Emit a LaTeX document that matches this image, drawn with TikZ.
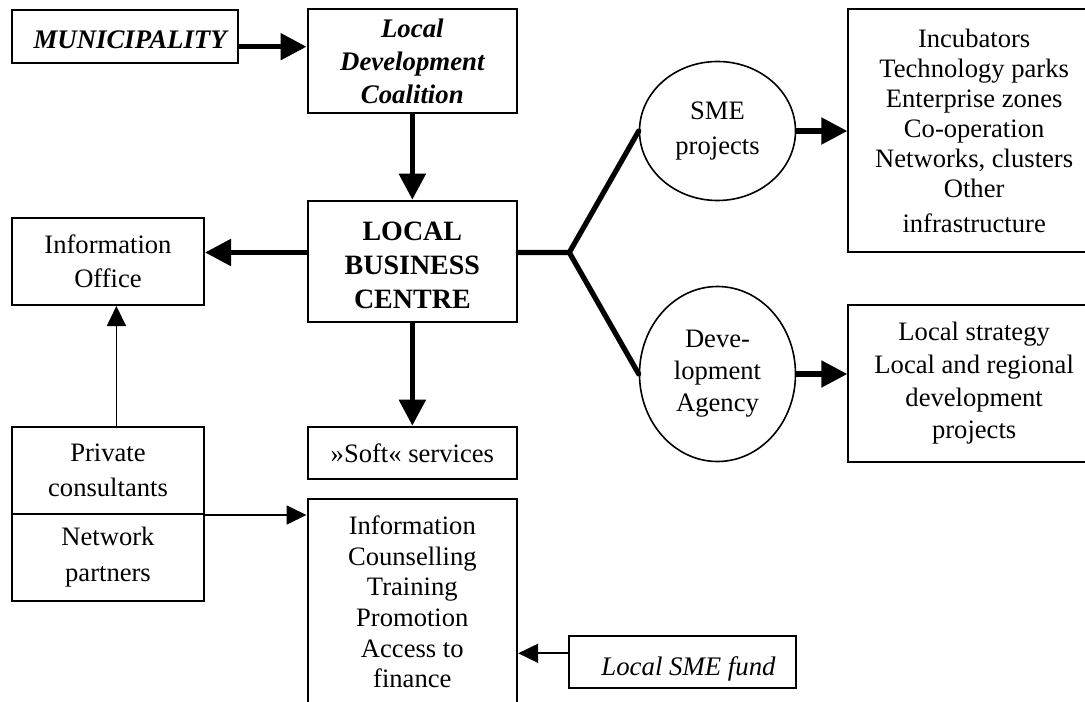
\documentclass[tikz,border=0pt]{standalone}
\usepackage{fontspec}
\setmainfont{Liberation Serif}
\usetikzlibrary{arrows.meta,shapes.geometric,calc}
\begin{document}
\begin{tikzpicture}[x=0.5pt,y=-0.5pt,
  box/.style 2 args={draw,line width=1pt,inner sep=0pt,align=center,
    minimum width=#1pt,minimum height=#2pt},
  txt/.style={font=\fontsize{13.3}{#1}\selectfont},
  txt/.default=16pt,
  oval/.style={draw,ellipse,line width=0.8pt,inner sep=0pt,align=center},
  bigarrow/.style={line width=2.6pt,-{Triangle[length=13pt,width=13pt]}},
  thickline/.style={line width=2.6pt,line cap=round},
  thinarrow/.style={line width=0.9pt,-{Triangle[length=10pt,width=9.5pt]}}]

\fill[white] (0,0) rectangle (1085,701);
\useasboundingbox (0,0) rectangle (1085,701);

% helper rows for the connectors that leave a box off its centre line
\coordinate (mrow) at (0,46.7);
\coordinate (fork) at (569.3,252.5);
\coordinate (pcol) at (116.4,0);

% left column
\node[box={113.15}{26.85},font=\fontsize{13.4}{16}\selectfont\bfseries\itshape,
  text height=9.2pt,text depth=0.3pt] (muni) at (125.15,36.5) {\raisebox{-1.5pt}{\hspace*{5pt}MUNICIPALITY}};
\node[box={96}{43.35},txt=17pt] (info) at (108,261.65) {Information\\Office};
\node[box={96}{43.65},txt=17.5pt] (consult) at (108,470.35) {Private\\consultants};
\node[box={96}{43.35},txt=18pt] (partners) at (108,557.35) {Network\\partners};

% centre column
\node[box={104.85}{52.15},font=\fontsize{13.4}{16.5}\selectfont\bfseries\itshape] (ldc) at (412.35,61.15) {Local\\Development\\Coalition};
\node[box={104.85}{60.65},font=\fontsize{14}{16.8}\selectfont\bfseries] (lbc) at (412.35,261.35) {\rule{0pt}{13.3pt}LOCAL\\BUSINESS\\CENTRE};
\node[box={104.85}{26.15},txt] (soft) at (412.35,452.85) {»Soft« services};
\node[box={104.85}{130.5}] (svcbox) at (412.35,629.5) {};
\node[txt=15.3pt,align=center] (svctext) at (412.3,602) {Information\\Counselling\\Training\\Promotion\\Access to\\finance};
\node[box={113.5}{26},font=\fontsize{13.4}{16}\selectfont\itshape,
  text height=9.2pt,text depth=2.9pt] (fund) at (682.5,662) {\raisebox{-3.5pt}{\hspace*{6pt}Local SME fund}};

% right column
\node[oval,txt=17.5pt,minimum width=78pt,minimum height=69.5pt] (sme) at (717.5,131) {SME\\projects};
\node[oval,txt=16pt,minimum width=78pt,minimum height=87.5pt] (dev) at (717.5,374) {Deve-\\lopment\\Agency};
\node[box={125.85}{121.65},txt=15pt] (inc) at (974.15,130.65) {Incubators\\Technology parks\\Enterprise zones\\Co-operation\\Networks, clusters\\Other\\[2.5pt]infrastructure};
\node[box={125.85}{78.35},txt=16.3pt] (strat) at (974.15,383.35) {Local strategy\\Local and regional\\development\\projects};

% thick connectors
\draw[bigarrow] (muni.east |- mrow) -- (ldc.west |- mrow);
\draw[bigarrow] (ldc.south) -- (lbc.north);
\draw[bigarrow] (lbc.south) -- (soft.north);
\draw[bigarrow] (lbc.west |- fork) -- (info.east |- fork);
\draw[thickline,line join=miter] (lbc.east |- fork) -- (fork) -- (sme.west);
\draw[thickline,line join=miter] (fork) -- (dev.west);
\draw[bigarrow] (sme.east) -- (sme.east -| inc.west);
\draw[bigarrow] (dev.east) -- (dev.east -| strat.west);

% thin connectors
\draw[thinarrow] (consult.north -| pcol) -- (info.south -| pcol);
\draw[thinarrow] (consult.south east) -- (svcbox.west |- consult.south);
\draw[thinarrow] ($(fund.west)+(0,-8.7)$) -- ($(fund.west -| svcbox.east)+(0,-8.7)$);
\end{tikzpicture}
\end{document}
